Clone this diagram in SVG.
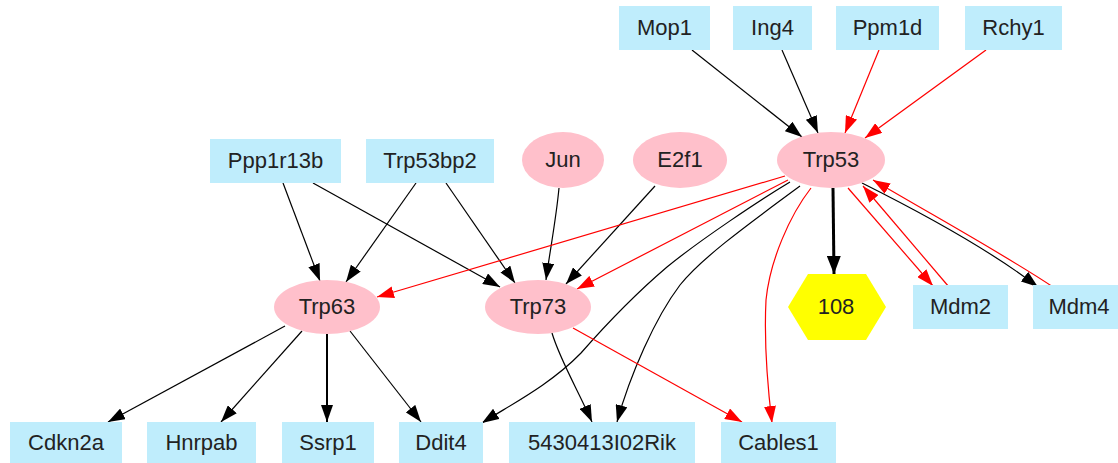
<svg xmlns="http://www.w3.org/2000/svg" width="1118" height="463" viewBox="0 0 1118 463">
<style>
.box{fill:#bfedfc;stroke:none}
.ell{fill:#ffc0cb;stroke:none}
.hex{fill:#ffff00;stroke:none}
text{font-family:"Liberation Sans",Arial,sans-serif;font-size:22px;fill:#222;text-anchor:middle}
.e{fill:none;stroke:#000;stroke-width:1.2;marker-end:url(#ab)}
.r{fill:none;stroke:#f00;stroke-width:1.2;marker-end:url(#ar)}
.t{fill:none;stroke:#000;stroke-width:3;marker-end:url(#at)}
</style>
<defs>
<marker id="ab" viewBox="0 0 17 12" refX="17" refY="6" markerWidth="17" markerHeight="12" markerUnits="userSpaceOnUse" orient="auto"><path d="M0,0 L17,6 L0,12 z" fill="#000"/></marker>
<marker id="ar" viewBox="0 0 17 12" refX="17" refY="6" markerWidth="17" markerHeight="12" markerUnits="userSpaceOnUse" orient="auto"><path d="M0,0 L17,6 L0,12 z" fill="#f00"/></marker>
<marker id="at" viewBox="0 0 18 14" refX="18" refY="7" markerWidth="18" markerHeight="14" markerUnits="userSpaceOnUse" orient="auto"><path d="M0,0 L18,7 L0,14 z" fill="#000"/></marker>
</defs>
<rect width="1118" height="463" fill="#fff"/>
<g id="connectors">
<path class="e" d="M692,50 L802,137"/>
<path class="e" d="M782,50 L818,133"/>
<path class="r" d="M879,50 L845,133"/>
<path class="r" d="M986,50 L865,138"/>
<path class="e" d="M283,183 L320,281"/>
<path class="e" d="M313,183 L500,287"/>
<path class="e" d="M416,183 L346,282"/>
<path class="e" d="M446,183 L515,283"/>
<path class="e" d="M559,188 C556,220 550,250 546,280"/>
<path class="e" d="M655,186 L566,284"/>
<path class="r" d="M785,176 L377,297"/>
<path class="r" d="M788,180 L577,289"/>
<path class="e" d="M790,182 C760,200 700,240 667,267 C640,290 610,320 581,353 C550,385 510,405 482,423"/>
<path class="e" d="M800,186 C740,230 700,260 680,285 C655,318 630,375 617,422"/>
<path class="r" d="M811,188 C790,215 770,260 766,300 C764,340 768,390 772,423"/>
<path class="t" d="M833,188 L834,274"/>
<path class="r" d="M848,188 L933,286"/>
<path class="r" d="M949,287 L863,186"/>
<path class="e" d="M862,183 C920,212 990,250 1038,287"/>
<path class="r" d="M1053,287 C1010,258 950,225 873,180"/>
<path class="e" d="M285,326 L108,422"/>
<path class="e" d="M302,331 L221,422"/>
<path class="e" style="stroke-width:2" d="M327,334 L327,422"/>
<path class="e" d="M350,331 L421,422"/>
<path class="e" d="M552,333 C560,360 578,390 592,422"/>
<path class="r" d="M573,328 L742,422"/>
</g>
<g id="Mop1"><rect class="box" x="619" y="6" width="91" height="44"/><text x="664.5" y="35">Mop1</text></g>
<g id="Ing4"><rect class="box" x="733" y="6" width="79" height="44"/><text x="772.5" y="35">Ing4</text></g>
<g id="Ppm1d"><rect class="box" x="836" y="6" width="103" height="44"/><text x="887.5" y="35">Ppm1d</text></g>
<g id="Rchy1"><rect class="box" x="965" y="6" width="97" height="44"/><text x="1013.5" y="35">Rchy1</text></g>
<g id="Ppp1r13b"><rect class="box" x="210" y="139" width="131" height="44"/><text x="275.5" y="168">Ppp1r13b</text></g>
<g id="Trp53bp2"><rect class="box" x="366" y="139" width="128" height="44"/><text x="430" y="168">Trp53bp2</text></g>
<g id="Jun"><ellipse class="ell" cx="563" cy="160" rx="41" ry="28"/><text x="563" y="167">Jun</text></g>
<g id="E2f1"><ellipse class="ell" cx="680" cy="160" rx="47" ry="28"/><text x="680" y="167">E2f1</text></g>
<g id="Trp53"><ellipse class="ell" cx="831" cy="160" rx="54" ry="28"/><text x="831" y="167">Trp53</text></g>
<g id="Trp63"><ellipse class="ell" cx="327" cy="307" rx="53" ry="27"/><text x="327" y="314">Trp63</text></g>
<g id="Trp73"><ellipse class="ell" cx="538" cy="307" rx="53" ry="27"/><text x="538" y="314">Trp73</text></g>
<g id="n108"><polygon class="hex" points="788,307 808,274 866,274 886,307 866,340 808,340"/><text x="836" y="314">108</text></g>
<g id="Mdm2"><rect class="box" x="913" y="285" width="95" height="44"/><text x="960.5" y="314">Mdm2</text></g>
<g id="Mdm4"><rect class="box" x="1033" y="285" width="92" height="44"/><text x="1079" y="314">Mdm4</text></g>
<g id="Cdkn2a"><rect class="box" x="10" y="422" width="112" height="44"/><text x="66" y="450">Cdkn2a</text></g>
<g id="Hnrpab"><rect class="box" x="147" y="422" width="109" height="44"/><text x="201.5" y="450">Hnrpab</text></g>
<g id="Ssrp1"><rect class="box" x="282" y="422" width="92" height="44"/><text x="328" y="450">Ssrp1</text></g>
<g id="Ddit4"><rect class="box" x="399" y="422" width="84" height="44"/><text x="441" y="450">Ddit4</text></g>
<g id="n5430413I02Rik"><rect class="box" x="509" y="422" width="186" height="44"/><text x="602" y="450">5430413I02Rik</text></g>
<g id="Cables1"><rect class="box" x="721" y="422" width="115" height="44"/><text x="778.5" y="450">Cables1</text></g>
</svg>
